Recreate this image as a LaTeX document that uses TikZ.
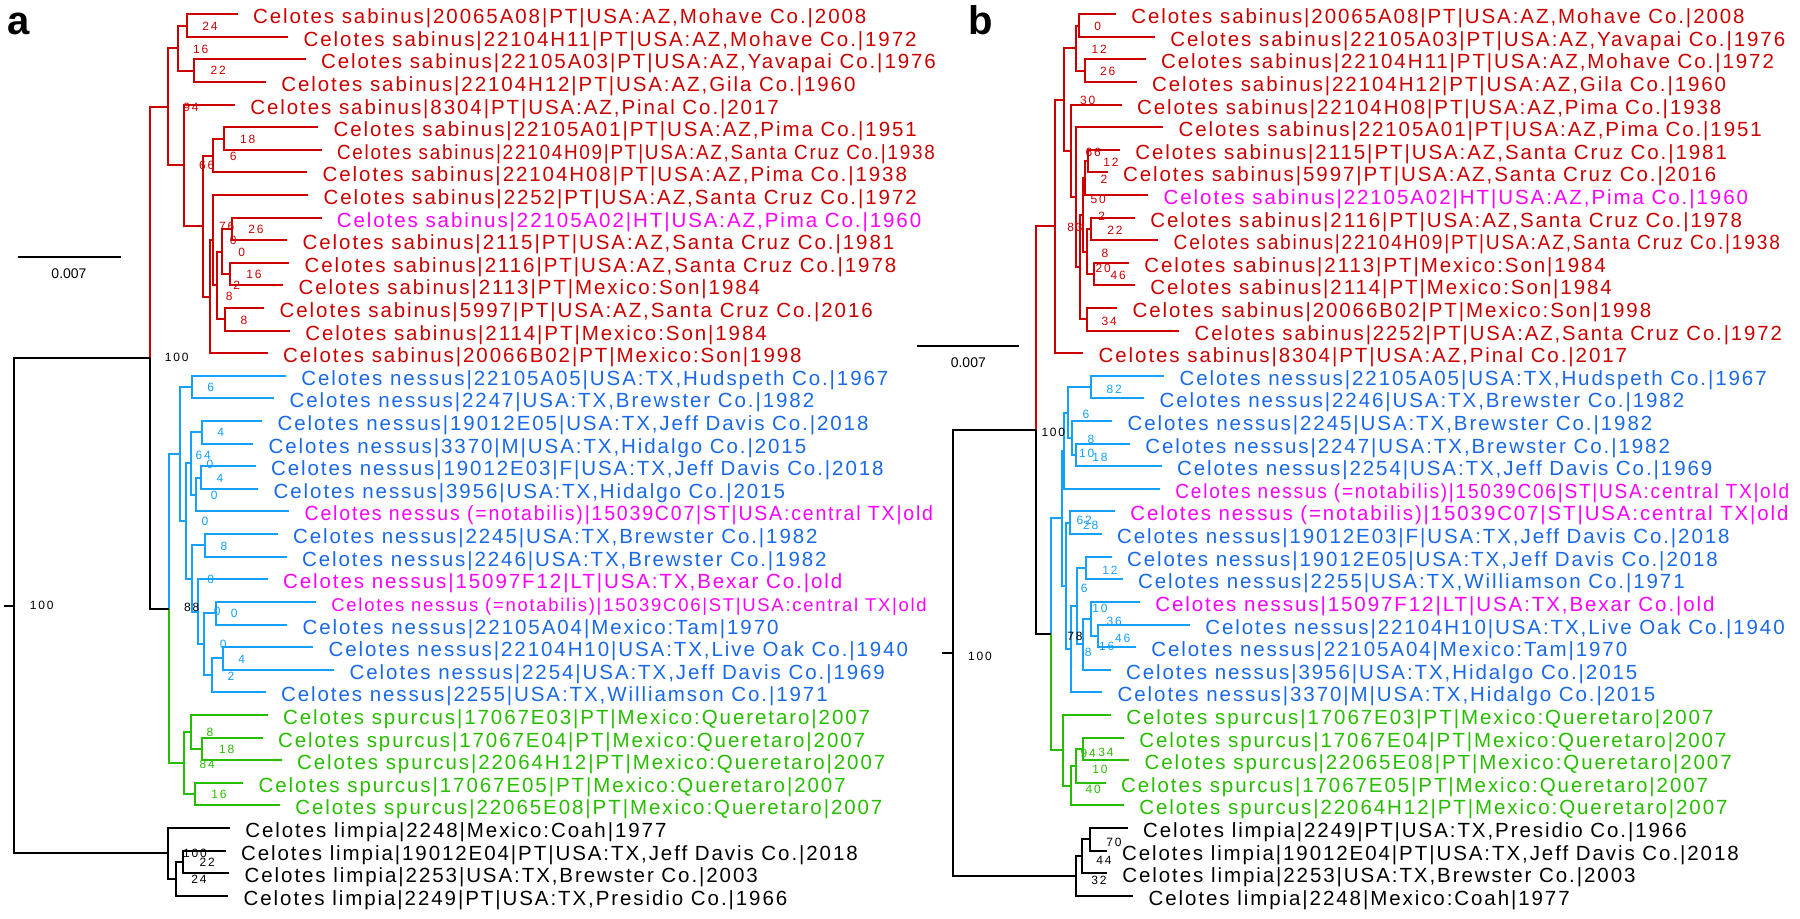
\documentclass[tikz,border=0pt]{standalone}
\usepackage{fontspec}
\newfontfamily\labfont[LetterSpace=9.4]{Liberation Sans}
\newfontfamily\bsfont[LetterSpace=15]{Liberation Sans}
\newfontfamily\plainsf{Liberation Sans}
\definecolor{sabC}{RGB}{204,0,0}
\definecolor{magC}{RGB}{255,0,255}
\definecolor{nesT}{RGB}{25,105,235}
\definecolor{nesL}{RGB}{20,160,255}
\definecolor{spuC}{RGB}{40,190,0}
\tikzset{
  br/.style={line width=1pt},
  sabLn/.style={br,draw=sabC},
  nesLn/.style={br,draw=nesL},
  spuLn/.style={br,draw=spuC},
  blkLn/.style={br,draw=black},
  lab/.style={inner sep=0pt,anchor=base west,font=\labfont\fontsize{10.25}{12}\selectfont},
  bsn/.style={inner sep=0pt,font=\bsfont\fontsize{6}{7}\selectfont},
  sclab/.style={inner sep=0pt,font=\plainsf\fontsize{7}{8}\selectfont},
  panel/.style={inner sep=0pt,anchor=base west,font=\plainsf\bfseries\fontsize{20}{24}\selectfont}
}
\newcommand\tleaf[5]{\coordinate (#1) at (#2,{14.3+22.6*#3});
  \node[lab,text=#4] (#1t) at (#2+15,{14.3+22.6*#3+9.5}) {#5};}
\newcommand\bsv[5]{\node[bsn,text=#2] (#1) at (#3,#4) {#5};}
\begin{document}
\begin{tikzpicture}[x=0.5pt,y=-0.5pt]
\useasboundingbox (0,0) rectangle (1800,919);
\fill[white] (0,0) rectangle (1800,919);
\node[panel] (pa) at (7,35) {a};
\node[panel] (pb) at (968,35) {b};
% ---------------- panel a leaves
\tleaf{a0}{237.7}{0}{sabC}{Celotes sabinus|20065A08|PT|USA:AZ,Mohave Co.|2008}
\tleaf{a1}{288.3}{1}{sabC}{Celotes sabinus|22104H11|PT|USA:AZ,Mohave Co.|1972}
\tleaf{a2}{305.7}{2}{sabC}{Celotes sabinus|22105A03|PT|USA:AZ,Yavapai Co.|1976}
\tleaf{a3}{266}{3}{sabC}{Celotes sabinus|22104H12|PT|USA:AZ,Gila Co.|1960}
\tleaf{a4}{235}{4}{sabC}{Celotes sabinus|8304|PT|USA:AZ,Pinal Co.|2017}
\tleaf{a5}{318.3}{5}{sabC}{Celotes sabinus|22105A01|PT|USA:AZ,Pima Co.|1951}
\tleaf{a6}{321.7}{6}{sabC}{\scalebox{0.92}[1]{Celotes sabinus|22104H09|PT|USA:AZ,Santa Cruz Co.|1938}}
\tleaf{a7}{307.3}{7}{sabC}{Celotes sabinus|22104H08|PT|USA:AZ,Pima Co.|1938}
\tleaf{a8}{308.3}{8}{sabC}{Celotes sabinus|2252|PT|USA:AZ,Santa Cruz Co.|1972}
\tleaf{a9}{321.5}{9}{magC}{Celotes sabinus|22105A02|HT|USA:AZ,Pima Co.|1960}
\tleaf{a10}{287.3}{10}{sabC}{Celotes sabinus|2115|PT|USA:AZ,Santa Cruz Co.|1981}
\tleaf{a11}{289.3}{11}{sabC}{Celotes sabinus|2116|PT|USA:AZ,Santa Cruz Co.|1978}
\tleaf{a12}{283.3}{12}{sabC}{Celotes sabinus|2113|PT|Mexico:Son|1984}
\tleaf{a13}{264.3}{13}{sabC}{Celotes sabinus|5997|PT|USA:AZ,Santa Cruz Co.|2016}
\tleaf{a14}{290}{14}{sabC}{Celotes sabinus|2114|PT|Mexico:Son|1984}
\tleaf{a15}{267.7}{15}{sabC}{Celotes sabinus|20066B02|PT|Mexico:Son|1998}
\tleaf{a16}{286}{16}{nesT}{Celotes nessus|22105A05|USA:TX,Hudspeth Co.|1967}
\tleaf{a17}{274.3}{17}{nesT}{Celotes nessus|2247|USA:TX,Brewster Co.|1982}
\tleaf{a18}{262.3}{18}{nesT}{Celotes nessus|19012E05|USA:TX,Jeff Davis Co.|2018}
\tleaf{a19}{253.3}{19}{nesT}{Celotes nessus|3370|M|USA:TX,Hidalgo Co.|2015}
\tleaf{a20}{255.7}{20}{nesT}{Celotes nessus|19012E03|F|USA:TX,Jeff Davis Co.|2018}
\tleaf{a21}{258.3}{21}{nesT}{Celotes nessus|3956|USA:TX,Hidalgo Co.|2015}
\tleaf{a22}{289.3}{22}{magC}{\scalebox{0.95}[1]{Celotes nessus (=notabilis)|15039C07|ST|USA:central TX|old}}
\tleaf{a23}{277.7}{23}{nesT}{Celotes nessus|2245|USA:TX,Brewster Co.|1982}
\tleaf{a24}{286.7}{24}{nesT}{Celotes nessus|2246|USA:TX,Brewster Co.|1982}
\tleaf{a25}{267.7}{25}{magC}{Celotes nessus|15097F12|LT|USA:TX,Bexar Co.|old}
\tleaf{a26}{316}{26}{magC}{\scalebox{0.9}{Celotes nessus (=notabilis)|15039C06|ST|USA:central TX|old}}
\tleaf{a27}{287.3}{27}{nesT}{Celotes nessus|22105A04|Mexico:Tam|1970}
\tleaf{a28}{313.3}{28}{nesT}{Celotes nessus|22104H10|USA:TX,Live Oak Co.|1940}
\tleaf{a29}{334.3}{29}{nesT}{Celotes nessus|2254|USA:TX,Jeff Davis Co.|1969}
\tleaf{a30}{265.7}{30}{nesT}{Celotes nessus|2255|USA:TX,Williamson Co.|1971}
\tleaf{a31}{267.7}{31}{spuC}{Celotes spurcus|17067E03|PT|Mexico:Queretaro|2007}
\tleaf{a32}{262.7}{32}{spuC}{Celotes spurcus|17067E04|PT|Mexico:Queretaro|2007}
\tleaf{a33}{281.7}{33}{spuC}{Celotes spurcus|22064H12|PT|Mexico:Queretaro|2007}
\tleaf{a34}{243.3}{34}{spuC}{Celotes spurcus|17067E05|PT|Mexico:Queretaro|2007}
\tleaf{a35}{280}{35}{spuC}{Celotes spurcus|22065E08|PT|Mexico:Queretaro|2007}
\tleaf{a36}{230}{36}{black}{Celotes limpia|2248|Mexico:Coah|1977}
\tleaf{a37}{225.7}{37}{black}{Celotes limpia|19012E04|PT|USA:TX,Jeff Davis Co.|2018}
\tleaf{a38}{229.3}{38}{black}{Celotes limpia|2253|USA:TX,Brewster Co.|2003}
\tleaf{a39}{228.3}{39}{black}{Celotes limpia|2249|PT|USA:TX,Presidio Co.|1966}
% ---------------- panel a internal nodes
\coordinate (P0) at (186.7,25.6);
\coordinate (P1) at (194,70.8);
\coordinate (P2) at (177.7,48.2);
\coordinate (D56) at (224.3,138.6);
\coordinate (ND) at (213.3,155.55);
\coordinate (P910) at (232.3,229);
\coordinate (P1112) at (230,274.2);
\coordinate (NH) at (221.7,251.6);
\coordinate (P1314) at (225,319.4);
\coordinate (NG) at (217.3,285.5);
\coordinate (NF) at (213.3,240.3);
\coordinate (NE) at (210,296.8);
\coordinate (NC) at (203.3,226.2);
\coordinate (NB) at (184.3,165.45);
\coordinate (NA) at (168.3,106.8);
\coordinate (Q1617) at (191.7,387.2);
\coordinate (Q1819) at (201.7,432.4);
\coordinate (Q2021) at (201.3,477.6);
\coordinate (Qb) at (195.7,494.55);
\coordinate (Qa) at (191,463.5);
\coordinate (Q2324) at (205,545.4);
\coordinate (Q2627) at (216,613.2);
\coordinate (Q2829) at (222.7,658.4);
\coordinate (Qe) at (212.3,675.35);
\coordinate (Qd) at (204,644.3);
\coordinate (Qc) at (198.3,611.8);
\coordinate (Qf) at (191.7,578.6);
\coordinate (Qg) at (185.7,521.05);
\coordinate (Qh) at (180,454.1);
\coordinate (R3233) at (202.3,748.8);
\coordinate (Ra) at (191,731.85);
\coordinate (R3435) at (195,794);
\coordinate (SPU) at (184,762.9);
\coordinate (NSP) at (169.3,608.5);
\coordinate (ING) at (150,357.65);
\coordinate (L3738) at (183.3,861.8);
\coordinate (La) at (176,878.75);
\coordinate (LIM) at (167.7,853.3);
\coordinate (ROOT) at (14,605.5);
\coordinate (RT) at (4,605.5);
% ---------------- panel a branches
\draw[sabLn] (P0)|-(a0) (P0)|-(a1) (P1)|-(a2) (P1)|-(a3) (P2)|-(P0) (P2)|-(P1)
 (D56)|-(a5) (D56)|-(a6) (ND)|-(D56) (ND)|-(a7)
 (P910)|-(a9) (P910)|-(a10) (P1112)|-(a11) (P1112)|-(a12) (NH)|-(P910) (NH)|-(P1112)
 (P1314)|-(a13) (P1314)|-(a14) (NG)|-(NH) (NG)|-(P1314) (NF)|-(a8) (NF)|-(NG)
 (NE)|-(NF) (NE)|-(a15) (NC)|-(ND) (NC)|-(NE) (NB)|-(a4) (NB)|-(NC)
 (NA)|-(P2) (NA)|-(NB) (ING)|-(NA);
\draw[nesLn] (NSP)|-(Qh) (Qh)|-(Q1617) (Qh)|-(Qg) (Q1617)|-(a16) (Q1617)|-(a17)
 (Qg)|-(Qa) (Qg)|-(Qf) (Qa)|-(Q1819) (Qa)|-(Qb) (Q1819)|-(a18) (Q1819)|-(a19)
 (Qb)|-(Q2021) (Qb)|-(a22) (Q2021)|-(a20) (Q2021)|-(a21)
 (Qf)|-(Q2324) (Qf)|-(Qc) (Q2324)|-(a23) (Q2324)|-(a24)
 (Qc)|-(a25) (Qc)|-(Qd) (Qd)|-(Q2627) (Qd)|-(Qe) (Q2627)|-(a26) (Q2627)|-(a27)
 (Qe)|-(Q2829) (Qe)|-(a30) (Q2829)|-(a28) (Q2829)|-(a29);
\draw[spuLn] (NSP)|-(SPU) (SPU)|-(Ra) (SPU)|-(R3435) (Ra)|-(a31) (Ra)|-(R3233)
 (R3233)|-(a32) (R3233)|-(a33) (R3435)|-(a34) (R3435)|-(a35);
\draw[blkLn] (RT)--(ROOT) (ROOT)|-(ING) (ROOT)|-(LIM) (ING)|-(NSP)
 (LIM)|-(a36) (LIM)|-(La) (La)|-(L3738) (La)|-(a39) (L3738)|-(a37) (L3738)|-(a38);
% ---------------- panel a bootstraps
\bsv{ba1}{sabC}{210}{26.7}{24}
\bsv{ba2}{sabC}{200.7}{49}{16}
\bsv{ba3}{sabC}{218.3}{70.7}{22}
\bsv{ba4}{sabC}{191}{107.3}{94}
\bsv{ba5}{sabC}{247.7}{139.3}{18}
\bsv{ba6}{sabC}{233.3}{156.7}{6}
\bsv{ba7}{sabC}{206.7}{165.7}{66}
\bsv{ba8}{sabC}{226.7}{226.7}{76}
\bsv{ba9}{sabC}{256}{229.3}{26}
\bsv{ba10}{sabC}{233.3}{240.7}{0}
\bsv{ba11}{sabC}{241.7}{252.3}{0}
\bsv{ba12}{sabC}{254}{274.3}{16}
\bsv{ba13}{sabC}{236.7}{285.3}{2}
\bsv{ba14}{sabC}{229.3}{296.7}{8}
\bsv{ba15}{sabC}{244}{320}{8}
\bsv{ba16}{black}{176.7}{357.7}{100}
\bsv{ba17}{black}{41.7}{605.7}{100}
\bsv{ba18}{black}{191.7}{607.7}{88}
\bsv{ba19}{black}{195}{853.3}{100}
\bsv{ba20}{black}{207.3}{862.3}{22}
\bsv{ba21}{black}{199}{879.3}{24}
\bsv{ba22}{nesL}{210.7}{387.7}{6}
\bsv{ba23}{nesL}{220.7}{432.7}{4}
\bsv{ba24}{nesL}{203.3}{455}{64}
\bsv{ba25}{nesL}{210}{464}{0}
\bsv{ba26}{nesL}{220}{478.3}{4}
\bsv{ba27}{nesL}{214.3}{495}{0}
\bsv{ba28}{nesL}{205}{521.7}{0}
\bsv{ba29}{nesL}{224}{546}{8}
\bsv{ba30}{nesL}{210.7}{579.3}{0}
\bsv{ba31}{nesL}{217.3}{611.7}{0}
\bsv{ba32}{nesL}{234.3}{613.3}{0}
\bsv{ba33}{nesL}{223.3}{644}{0}
\bsv{ba34}{nesL}{241.7}{659}{4}
\bsv{ba35}{nesL}{231}{676}{2}
\bsv{ba36}{spuC}{210}{732.7}{8}
\bsv{ba37}{spuC}{226.7}{749}{18}
\bsv{ba38}{spuC}{207.3}{764}{84}
\bsv{ba39}{spuC}{219}{794.3}{16}
% scale bar a
\coordinate (sa1) at (18.3,256.7);
\coordinate (sa2) at (120.7,256.7);
\draw[blkLn] (sa1)--(sa2);
\node[sclab] (sal) at (69,273.3) {0.007};
% ---------------- panel b leaves
\tleaf{b0}{1116}{0}{sabC}{Celotes sabinus|20065A08|PT|USA:AZ,Mohave Co.|2008}
\tleaf{b1}{1155}{1}{sabC}{Celotes sabinus|22105A03|PT|USA:AZ,Yavapai Co.|1976}
\tleaf{b2}{1145.7}{2}{sabC}{Celotes sabinus|22104H11|PT|USA:AZ,Mohave Co.|1972}
\tleaf{b3}{1136.7}{3}{sabC}{Celotes sabinus|22104H12|PT|USA:AZ,Gila Co.|1960}
\tleaf{b4}{1121.7}{4}{sabC}{Celotes sabinus|22104H08|PT|USA:AZ,Pima Co.|1938}
\tleaf{b5}{1163.3}{5}{sabC}{Celotes sabinus|22105A01|PT|USA:AZ,Pima Co.|1951}
\tleaf{b6}{1120}{6}{sabC}{Celotes sabinus|2115|PT|USA:AZ,Santa Cruz Co.|1981}
\tleaf{b7}{1107.7}{7}{sabC}{Celotes sabinus|5997|PT|USA:AZ,Santa Cruz Co.|2016}
\tleaf{b8}{1148.3}{8}{magC}{Celotes sabinus|22105A02|HT|USA:AZ,Pima Co.|1960}
\tleaf{b9}{1135}{9}{sabC}{Celotes sabinus|2116|PT|USA:AZ,Santa Cruz Co.|1978}
\tleaf{b10}{1158.3}{10}{sabC}{\scalebox{0.933}[1]{Celotes sabinus|22104H09|PT|USA:AZ,Santa Cruz Co.|1938}}
\tleaf{b11}{1129}{11}{sabC}{Celotes sabinus|2113|PT|Mexico:Son|1984}
\tleaf{b12}{1135}{12}{sabC}{Celotes sabinus|2114|PT|Mexico:Son|1984}
\tleaf{b13}{1117.3}{13}{sabC}{Celotes sabinus|20066B02|PT|Mexico:Son|1998}
\tleaf{b14}{1179.3}{14}{sabC}{\scalebox{0.99}[1]{Celotes sabinus|2252|PT|USA:AZ,Santa Cruz Co.|1972}}
\tleaf{b15}{1083.3}{15}{sabC}{Celotes sabinus|8304|PT|USA:AZ,Pinal Co.|2017}
\tleaf{b16}{1164.3}{16}{nesT}{Celotes nessus|22105A05|USA:TX,Hudspeth Co.|1967}
\tleaf{b17}{1144.3}{17}{nesT}{Celotes nessus|2246|USA:TX,Brewster Co.|1982}
\tleaf{b18}{1112.3}{18}{nesT}{Celotes nessus|2245|USA:TX,Brewster Co.|1982}
\tleaf{b19}{1130}{19}{nesT}{Celotes nessus|2247|USA:TX,Brewster Co.|1982}
\tleaf{b20}{1161.7}{20}{nesT}{Celotes nessus|2254|USA:TX,Jeff Davis Co.|1969}
\tleaf{b21}{1160}{21}{magC}{\scalebox{0.928}[1]{Celotes nessus (=notabilis)|15039C06|ST|USA:central TX|old}}
\tleaf{b22}{1115}{22}{magC}{\scalebox{0.995}[1]{Celotes nessus (=notabilis)|15039C07|ST|USA:central TX|old}}
\tleaf{b23}{1101.7}{23}{nesT}{Celotes nessus|19012E03|F|USA:TX,Jeff Davis Co.|2018}
\tleaf{b24}{1111.7}{24}{nesT}{Celotes nessus|19012E05|USA:TX,Jeff Davis Co.|2018}
\tleaf{b25}{1122.7}{25}{nesT}{Celotes nessus|2255|USA:TX,Williamson Co.|1971}
\tleaf{b26}{1140}{26}{magC}{Celotes nessus|15097F12|LT|USA:TX,Bexar Co.|old}
\tleaf{b27}{1190}{27}{nesT}{Celotes nessus|22104H10|USA:TX,Live Oak Co.|1940}
\tleaf{b28}{1136}{28}{nesT}{Celotes nessus|22105A04|Mexico:Tam|1970}
\tleaf{b29}{1110.7}{29}{nesT}{Celotes nessus|3956|USA:TX,Hidalgo Co.|2015}
\tleaf{b30}{1102.3}{30}{nesT}{Celotes nessus|3370|M|USA:TX,Hidalgo Co.|2015}
\tleaf{b31}{1111}{31}{spuC}{Celotes spurcus|17067E03|PT|Mexico:Queretaro|2007}
\tleaf{b32}{1124}{32}{spuC}{Celotes spurcus|17067E04|PT|Mexico:Queretaro|2007}
\tleaf{b33}{1129.3}{33}{spuC}{Celotes spurcus|22065E08|PT|Mexico:Queretaro|2007}
\tleaf{b34}{1105.7}{34}{spuC}{Celotes spurcus|17067E05|PT|Mexico:Queretaro|2007}
\tleaf{b35}{1124}{35}{spuC}{Celotes spurcus|22064H12|PT|Mexico:Queretaro|2007}
\tleaf{b36}{1127.7}{36}{black}{Celotes limpia|2249|PT|USA:TX,Presidio Co.|1966}
\tleaf{b37}{1106.7}{37}{black}{Celotes limpia|19012E04|PT|USA:TX,Jeff Davis Co.|2018}
\tleaf{b38}{1107}{38}{black}{Celotes limpia|2253|USA:TX,Brewster Co.|2003}
\tleaf{b39}{1133.3}{39}{black}{Celotes limpia|2248|Mexico:Coah|1977}
% ---------------- panel b internal nodes
\coordinate (bP01) at (1079.3,25.6);
\coordinate (bP23) at (1085,70.8);
\coordinate (bP03) at (1076,48.2);
\coordinate (bP67) at (1087.7,161.2);
\coordinate (bS6) at (1085,178.15);
\coordinate (bP910) at (1090.7,229);
\coordinate (bP1112) at (1094,274.2);
\coordinate (bS7) at (1087,251.6);
\coordinate (bS5) at (1082.7,214.9);
\coordinate (bP1314) at (1086.7,319.4);
\coordinate (bS4) at (1079.7,267.15);
\coordinate (bS3) at (1075.7,197.2);
\coordinate (bS2) at (1070.7,150.95);
\coordinate (bS1) at (1064.3,99.6);
\coordinate (bSA) at (1055,226.45);
\coordinate (bP1617) at (1090.7,387.2);
\coordinate (bP1920) at (1075.7,455);
\coordinate (bU3) at (1072.3,438.05);
\coordinate (bU2) at (1067.7,412.6);
\coordinate (bU1) at (1064.3,450.75);
\coordinate (bP2223) at (1070,522.8);
\coordinate (bP2425) at (1086,568);
\coordinate (bP2728) at (1098.3,635.8);
\coordinate (bX1) at (1090.7,618.85);
\coordinate (bX2) at (1082.7,644.3);
\coordinate (bX3) at (1077,606.15);
\coordinate (bX4) at (1071,649.2);
\coordinate (bX5) at (1066,586);
\coordinate (bNU) at (1061.7,518.4);
\coordinate (bR3233) at (1083.3,748.8);
\coordinate (bR3) at (1076,765.75);
\coordinate (bR2) at (1070.7,785.5);
\coordinate (bR1) at (1063.3,750.2);
\coordinate (bNSP) at (1051,634.3);
\coordinate (bING) at (1035.7,430.4);
\coordinate (bL3637) at (1090,839.2);
\coordinate (bL2) at (1081.7,856.15);
\coordinate (bLIM) at (1076,875.9);
\coordinate (bROOT) at (953.3,653.15);
\coordinate (bRT) at (941.7,653.15);
% ---------------- panel b branches
\draw[sabLn] (bP01)|-(b0) (bP01)|-(b1) (bP23)|-(b2) (bP23)|-(b3) (bP03)|-(bP01) (bP03)|-(bP23)
 (bP67)|-(b6) (bP67)|-(b7) (bS6)|-(bP67) (bS6)|-(b8)
 (bP910)|-(b9) (bP910)|-(b10) (bP1112)|-(b11) (bP1112)|-(b12) (bS7)|-(bP910) (bS7)|-(bP1112)
 (bS5)|-(bS6) (bS5)|-(bS7) (bP1314)|-(b13) (bP1314)|-(b14) (bS4)|-(bS5) (bS4)|-(bP1314)
 (bS3)|-(b5) (bS3)|-(bS4) (bS2)|-(b4) (bS2)|-(bS3) (bS1)|-(bP03) (bS1)|-(bS2)
 (bSA)|-(bS1) (bSA)|-(b15) (bING)|-(bSA);
\draw[nesLn] (bNSP)|-(bNU) (bNU)|-(bU1) (bNU)|-(bX5) (bU1)|-(bU2) (bU1)|-(b21)
 (bU2)|-(bP1617) (bU2)|-(bU3) (bP1617)|-(b16) (bP1617)|-(b17) (bU3)|-(b18) (bU3)|-(bP1920)
 (bP1920)|-(b19) (bP1920)|-(b20)
 (bX5)|-(bP2223) (bX5)|-(bX4) (bP2223)|-(b22) (bP2223)|-(b23) (bX4)|-(bX3) (bX4)|-(b30)
 (bX3)|-(bP2425) (bX3)|-(bX2) (bP2425)|-(b24) (bP2425)|-(b25) (bX2)|-(bX1) (bX2)|-(b29)
 (bX1)|-(b26) (bX1)|-(bP2728) (bP2728)|-(b27) (bP2728)|-(b28);
\draw[spuLn] (bNSP)|-(bR1) (bR1)|-(b31) (bR1)|-(bR2) (bR2)|-(bR3) (bR2)|-(b35)
 (bR3)|-(bR3233) (bR3)|-(b34) (bR3233)|-(b32) (bR3233)|-(b33);
\draw[blkLn] (bRT)--(bROOT) (bROOT)|-(bING) (bROOT)|-(bLIM) (bING)|-(bNSP)
 (bLIM)|-(bL2) (bLIM)|-(b39) (bL2)|-(bL3637) (bL2)|-(b38) (bL3637)|-(b36) (bL3637)|-(b37);
% ---------------- panel b bootstraps
\bsv{bb1}{sabC}{1097.7}{26}{0}
\bsv{bb2}{sabC}{1099.3}{49}{12}
\bsv{bb3}{sabC}{1107.7}{71}{26}
\bsv{bb4}{sabC}{1087.7}{100}{30}
\bsv{bb5}{sabC}{1093.3}{152.3}{66}
\bsv{bb6}{sabC}{1111}{162.3}{12}
\bsv{bb7}{sabC}{1104}{179}{2}
\bsv{bb8}{sabC}{1098.3}{199}{50}
\bsv{bb9}{sabC}{1101.7}{216}{2}
\bsv{bb10}{sabC}{1115}{230}{22}
\bsv{bb11}{sabC}{1075}{227.7}{83}
\bsv{bb12}{sabC}{1105}{253.3}{8}
\bsv{bb13}{sabC}{1103.3}{268.3}{20}
\bsv{bb14}{sabC}{1118.3}{275.7}{46}
\bsv{bb15}{sabC}{1109.3}{321}{34}
\bsv{bb16}{black}{1053.3}{432.7}{100}
\bsv{bb17}{black}{1075}{636.7}{78}
\bsv{bb18}{black}{980}{656}{100}
\bsv{bb19}{black}{1114}{842.7}{70}
\bsv{bb20}{black}{1104}{860}{44}
\bsv{bb21}{black}{1099}{880}{32}
\bsv{bb22}{nesL}{1114.3}{389}{82}
\bsv{bb23}{nesL}{1086}{414}{6}
\bsv{bb24}{nesL}{1091}{439.3}{8}
\bsv{bb25}{nesL}{1086.7}{453.3}{10}
\bsv{bb26}{nesL}{1100}{457.3}{18}
\bsv{bb27}{nesL}{1084.3}{520}{62}
\bsv{bb28}{nesL}{1090.7}{525}{28}
\bsv{bb29}{nesL}{1110}{570.7}{12}
\bsv{bb30}{nesL}{1084.3}{588.3}{6}
\bsv{bb31}{nesL}{1100}{608.3}{10}
\bsv{bb32}{nesL}{1114.3}{621.7}{36}
\bsv{bb33}{nesL}{1122.7}{638.3}{46}
\bsv{bb34}{nesL}{1106.7}{646.7}{16}
\bsv{bb35}{nesL}{1088.3}{652.3}{8}
\bsv{bb36}{spuC}{1088.3}{753.3}{94}
\bsv{bb37}{spuC}{1106}{752.3}{34}
\bsv{bb38}{spuC}{1100}{769}{10}
\bsv{bb39}{spuC}{1093.3}{789.3}{40}
% scale bar b
\coordinate (sb1) at (917.3,345.7);
\coordinate (sb2) at (1019.3,345.7);
\draw[blkLn] (sb1)--(sb2);
\node[sclab] (sbl) at (968.3,362.7) {0.007};
\end{tikzpicture}
\end{document}
